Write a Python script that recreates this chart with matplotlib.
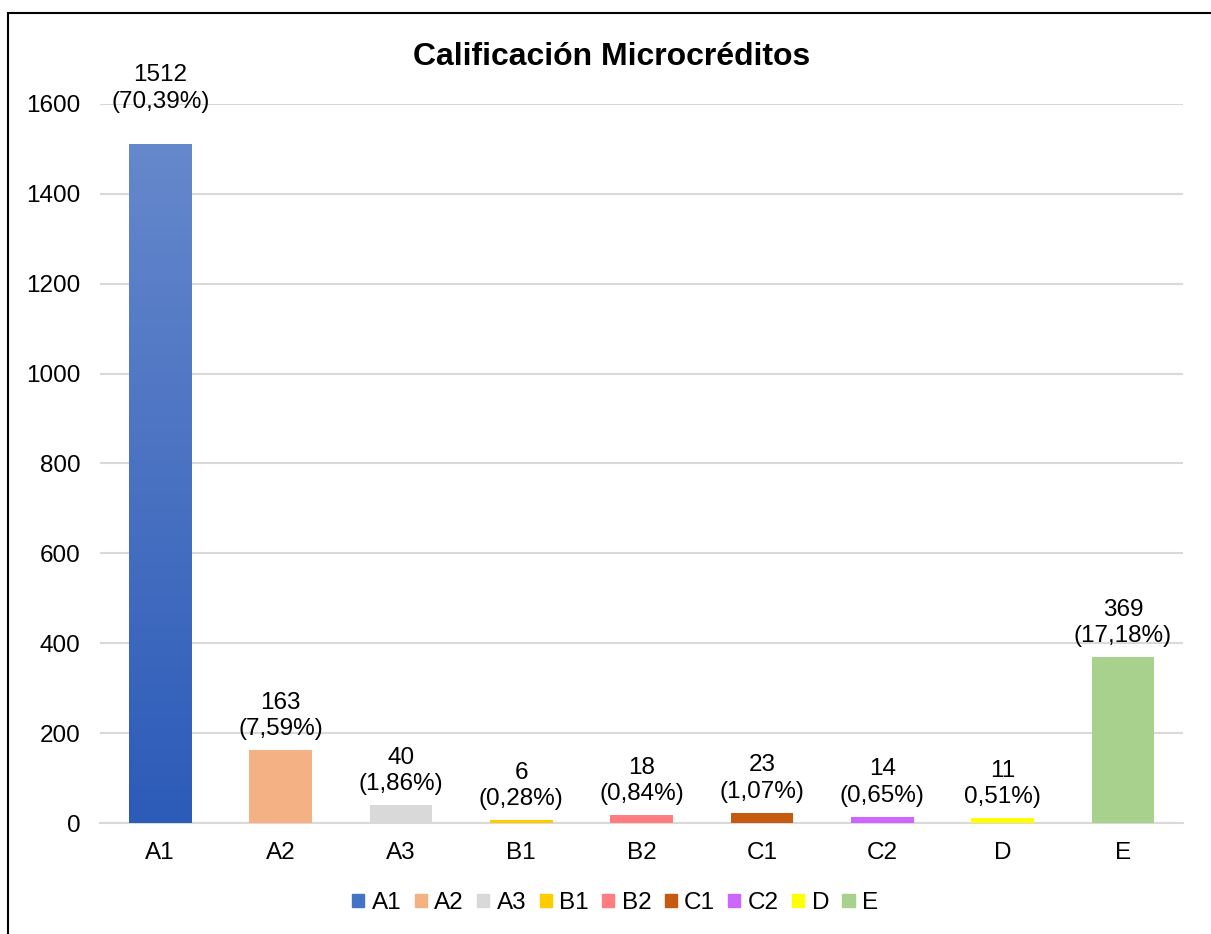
import matplotlib.pyplot as plt
import matplotlib.patches as mpatches
import numpy as np

plt.rcParams['font.family'] = ['Liberation Sans', 'DejaVu Sans']

# datos
categorias = ['A1', 'A2', 'A3', 'B1', 'B2', 'C1', 'C2', 'D', 'E']
valores = [1512, 163, 40, 6, 18, 23, 14, 11, 369]
etiquetas = ['1512\n(70,39%)', '163\n(7,59%)', '40\n(1,86%)', '6\n(0,28%)',
             '18\n(0,84%)', '23\n(1,07%)', '14\n(0,65%)', '11\n0,51%)', '369\n(17,18%)']
colores = ['#4472C4', '#F4B183', '#D9D9D9', '#FFCC00', '#FF7C80',
           '#C55A11', '#CC66FF', '#FFFF00', '#A9D18E']

fig = plt.figure(figsize=(12.11, 9.34), dpi=100)
ax = fig.add_axes([0.0826, 0.1188, 0.8944, 0.7699])

x = np.arange(len(categorias))
bars = ax.bar(x, valores, width=0.52, color=colores, zorder=3)

# degradado en la barra A1
b0 = bars[0]
b0.set_facecolor('none')
grad = np.linspace(0, 1, 256).reshape(-1, 1)
cmap = plt.matplotlib.colors.LinearSegmentedColormap.from_list('azul', ['#2C5BB8', '#6688CC'])
img = ax.imshow(grad, cmap=cmap, origin='lower', aspect='auto',
                extent=[b0.get_x(), b0.get_x() + b0.get_width(), 0, b0.get_height()], zorder=3)
img.set_clip_path(b0)

# etiquetas de datos
for i, bar in enumerate(bars):
    pad = 31 if i == 0 else 10
    ax.annotate(etiquetas[i], (bar.get_x() + bar.get_width() / 2, bar.get_height()),
                xytext=(0, pad), textcoords='offset pixels', ha='center', va='bottom',
                fontsize=17.5, linespacing=1.25, zorder=5)

ax.set_xlim(-0.5, len(categorias) - 0.5)
ax.set_ylim(0, 1600)
ax.set_yticks(np.arange(0, 1601, 200))
ax.set_xticks(x)
ax.set_xticklabels(categorias)
ax.tick_params(length=0, labelsize=17.5, pad=14)
ax.tick_params(axis='y', pad=14)
ax.grid(axis='y', color='#D9D9D9', lw=1.5, zorder=0)
for s in ['top', 'right', 'left']:
    ax.spines[s].set_visible(False)
ax.spines['bottom'].set_color('#D9D9D9')
ax.spines['bottom'].set_linewidth(1.5)
ax.set_axisbelow(True)

fig.text(0.505, 0.939, 'Calificación Microcréditos', ha='center', va='center',
         fontsize=23, fontweight='bold')

handles = [mpatches.Patch(color=c, label=l) for c, l in zip(colores, categorias)]
fig.legend(handles=handles, loc='center', bbox_to_anchor=(0.508, 0.033), ncol=9,
           frameon=False, fontsize=17.5, handlelength=0.5, handleheight=0.5,
           handletextpad=0.3, columnspacing=0.55)

# marco exterior
fig.patches.append(mpatches.Rectangle((8 / 1211, -0.01), 1.02, 1 - 13 / 934 + 0.01,
                                      transform=fig.transFigure, fill=False,
                                      edgecolor='black', lw=1.5))

fig.savefig('out.png', dpi=100)
